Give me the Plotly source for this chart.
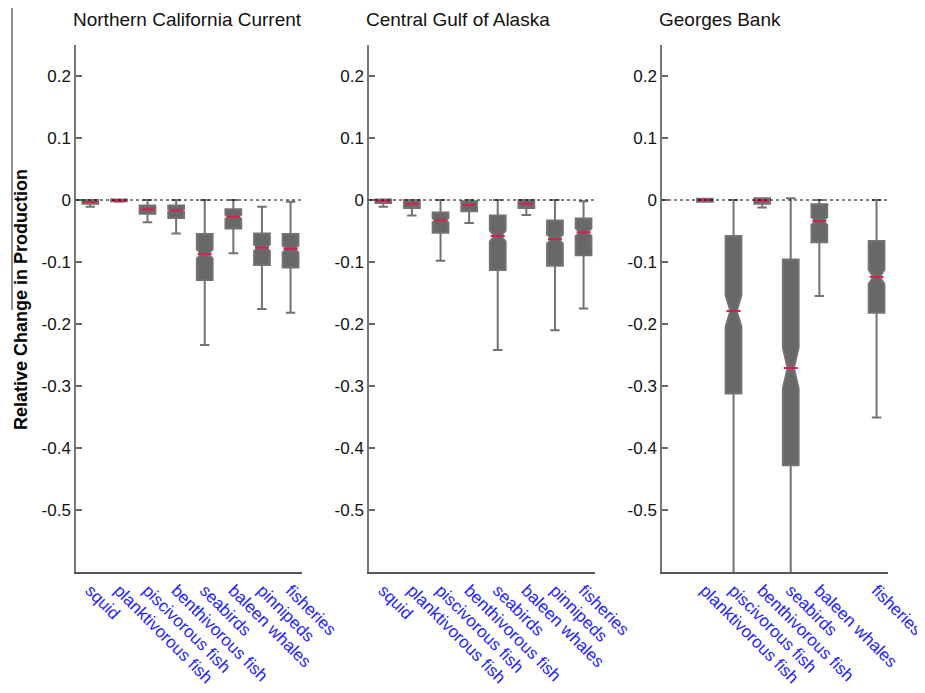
import plotly.graph_objects as go

# window is 925x693; the page body adds an 8px margin, so the figure is drawn
# at an offset of (8, 8) and sized to fit inside the window
WIN_W, WIN_H = 925, 693
OFF = 8
W, H = WIN_W - OFF, WIN_H - OFF

# ---------------- data ----------------
panel_titles = ["Northern California Current", "Central Gulf of Alaska", "Georges Bank"]

groups_all = ["squid", "planktivorous fish", "piscivorous fish", "benthivorous fish",
              "seabirds", "baleen whales", "pinnipeds", "fisheries"]

# Northern California Current
ncc_pos = [1, 2, 3, 4, 5, 6, 7, 8]
ncc_labels = groups_all
ncc_q3 = [0.000, 0.001, -0.009, -0.009, -0.055, -0.015, -0.054, -0.055]
ncc_med = [-0.003, -0.001, -0.015, -0.017, -0.087, -0.027, -0.077, -0.079]
ncc_q1 = [-0.006, -0.002, -0.022, -0.029, -0.129, -0.046, -0.105, -0.109]
ncc_hi = [0.000, 0.001, 0.000, 0.000, 0.000, 0.000, -0.011, -0.003]
ncc_lo = [-0.011, -0.003, -0.036, -0.054, -0.234, -0.086, -0.176, -0.182]

# Central Gulf of Alaska
cgoa_pos = [1, 2, 3, 4, 5, 6, 7, 8]
cgoa_labels = groups_all
cgoa_q3 = [0.001, 0.000, -0.020, -0.002, -0.025, 0.000, -0.033, -0.030]
cgoa_med = [-0.002, -0.006, -0.033, -0.008, -0.058, -0.006, -0.063, -0.052]
cgoa_q1 = [-0.005, -0.013, -0.053, -0.018, -0.113, -0.013, -0.106, -0.089]
cgoa_hi = [0.001, 0.000, 0.000, 0.000, 0.000, 0.000, 0.000, -0.002]
cgoa_lo = [-0.011, -0.025, -0.098, -0.037, -0.242, -0.024, -0.210, -0.175]

# Georges Bank (no squid, no pinnipeds)
gb_pos = [2, 3, 4, 5, 6, 8]
gb_labels = ["planktivorous fish", "piscivorous fish", "benthivorous fish",
             "seabirds", "baleen whales", "fisheries"]
gb_q3 = [0.002, -0.058, 0.003, -0.096, -0.007, -0.066]
gb_med = [0.000, -0.179, -0.001, -0.271, -0.034, -0.124]
gb_q1 = [-0.003, -0.312, -0.006, -0.428, -0.068, -0.182]
gb_hi = [0.002, 0.000, 0.003, 0.003, 0.000, 0.000]
gb_lo = [-0.003, -0.700, -0.012, -0.700, -0.155, -0.351]

y_tickvals = [0.2, 0.1, 0.0, -0.1, -0.2, -0.3, -0.4, -0.5]
y_ticktext = ["0.2", "0.1", "0", "-0.1", "-0.2", "-0.3", "-0.4", "-0.5"]

y_title = "Relative Change in Production"

panels = [
    (ncc_pos, ncc_labels, ncc_q1, ncc_med, ncc_q3, ncc_lo, ncc_hi),
    (cgoa_pos, cgoa_labels, cgoa_q1, cgoa_med, cgoa_q3, cgoa_lo, cgoa_hi),
    (gb_pos, gb_labels, gb_q1, gb_med, gb_q3, gb_lo, gb_hi),
]

# ---------------- style ----------------
BOX_FILL = "#686868"
BOX_LINE = "#727272"
MED_COLOR = "#d81e4c"
LABEL_BLUE = "#2424ff"
FONT = "Liberation Sans, Arial, sans-serif"
N_SAMPLES = 250  # notch: 1.57*IQR/sqrt(n)


def px_x(p):
    return (p - OFF) / W


def px_y(p):
    return 1 - (p - OFF) / H


panel_px = [(76, 302), (369, 595), (662, 888)]
y_dom = [px_y(572), px_y(45)]

fig = go.Figure()

for i, (pos, labels, q1, med, q3, lo, hi) in enumerate(panels):
    sfx = "" if i == 0 else str(i + 1)
    notch = [1.57 * (b - a) / N_SAMPLES ** 0.5 for a, b in zip(q1, q3)]
    fig.add_trace(go.Box(
        x=pos, q1=q1, median=med, q3=q3, lowerfence=lo, upperfence=hi,
        notched=True, notchspan=notch, notchwidth=0.3,
        width=0.55, whiskerwidth=0.6,
        fillcolor=BOX_FILL, line=dict(color=BOX_LINE, width=2),
        boxpoints=False, showlegend=False, hoverinfo="skip",
        xaxis="x" + sfx, yaxis="y" + sfx,
    ))
    fig.add_trace(go.Scatter(
        x=pos, y=med, mode="markers",
        marker=dict(symbol="line-ew", size=10, color=MED_COLOR,
                    line=dict(width=2, color=MED_COLOR)),
        showlegend=False, hoverinfo="skip",
        xaxis="x" + sfx, yaxis="y" + sfx,
    ))

    x0, x1 = panel_px[i]
    fig.layout["xaxis" + sfx] = dict(
        domain=[px_x(x0), px_x(x1)], range=[0.5, 8.4], anchor="y" + sfx,
        tickmode="array", tickvals=pos, ticktext=labels, tickangle=45,
        ticks="", showline=True, linecolor="#555555", linewidth=1.5,
        showgrid=False, zeroline=False, automargin=False,
        ticklabeloverflow="allow",
        tickfont=dict(family=FONT, size=17, color=LABEL_BLUE),
    )
    fig.layout["yaxis" + sfx] = dict(
        domain=y_dom, range=[-0.6, 0.25], anchor="x" + sfx,
        tickmode="array", tickvals=y_tickvals, ticktext=y_ticktext,
        ticks="inside", ticklen=6, tickcolor="#666666", tickwidth=1.5,
        showline=True, linecolor="#777777", linewidth=1.5,
        showgrid=False, zeroline=False, automargin=False,
        tickfont=dict(family=FONT, size=17, color="#111111"),
    )
    fig.add_shape(type="line", xref="x" + sfx + " domain", yref="y" + sfx,
                  x0=0, x1=1, y0=0, y1=0,
                  line=dict(color="black", width=1, dash="dot"))
    fig.add_annotation(text=panel_titles[i], xref="paper", yref="paper",
                       x=px_x(x0 - 5), y=px_y(20), xanchor="left", yanchor="middle",
                       showarrow=False, font=dict(family=FONT, size=19, color="#111111"))

fig.add_annotation(text="<b>" + y_title + "</b>", xref="paper", yref="paper",
                   x=px_x(21), y=px_y(300), textangle=-90, showarrow=False,
                   xanchor="center", yanchor="middle",
                   font=dict(family=FONT, size=18, color="black"))
fig.add_shape(type="line", xref="paper", yref="paper",
              x0=px_x(12), x1=px_x(12), y0=1, y1=px_y(310),
              line=dict(color="#222222", width=1))

fig.update_layout(
    width=W, height=H, margin=dict(l=0, r=0, t=0, b=0, autoexpand=False),
    plot_bgcolor="white", paper_bgcolor="white",
    font=dict(family=FONT),
)

fig.write_html("out.html")
